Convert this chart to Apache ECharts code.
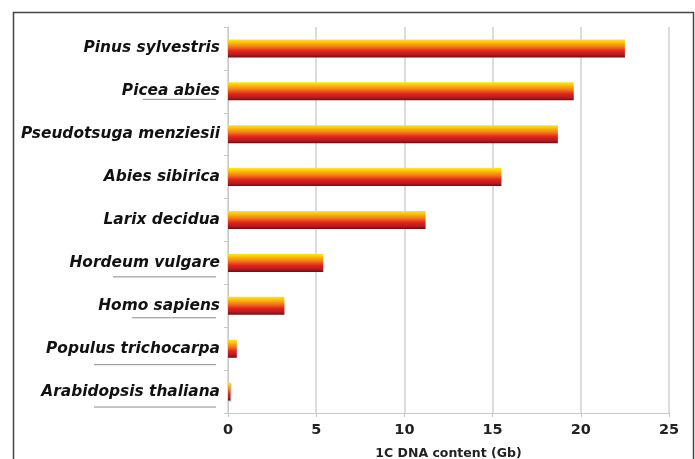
<!DOCTYPE html>
<html>
<head>
<meta charset="utf-8">
<script src="https://cdn.jsdelivr.net/npm/echarts@6/dist/echarts.min.js"></script>
<style>
html,body{margin:0;padding:0;background:#fff;}
#chart{width:695px;height:459px;}
</style>
</head>
<body>
<div id="chart"></div>
<script>
var species = ['Pinus sylvestris','Picea abies','Pseudotsuga menziesii','Abies sibirica','Larix decidua','Hordeum vulgare','Homo sapiens','Populus trichocarpa','Arabidopsis thaliana'];
var dnaContent = [22.5, 19.6, 18.7, 15.5, 11.2, 5.4, 3.2, 0.5, 0.135];
var xTicks = [0, 5, 10, 15, 20, 25];
var xTitle = '1C DNA content (Gb)';

var chart = echarts.init(document.getElementById('chart'));
chart.setOption({
  animation: false,
  grid: {left: 228, right: 26, top: 27, bottom: 46, containLabel: false, outerBoundsMode: 'none'},
  xAxis: {
    type: 'value',
    min: xTicks[0], max: xTicks[xTicks.length - 1], interval: 5,
    name: xTitle, nameLocation: 'middle', nameGap: 34,
    nameTextStyle: {fontFamily: 'DejaVu Sans', fontWeight: 'bold', fontSize: 12.5, color: '#222'},
    axisLine: {show: true, lineStyle: {color: '#c8c8c8', width: 1}},
    axisTick: {show: true, length: 4, lineStyle: {color: '#c8c8c8'}},
    axisLabel: {fontFamily: 'DejaVu Sans', fontWeight: 'bold', fontSize: 14.5, color: '#222', margin: 10},
    splitLine: {show: true, lineStyle: {color: '#d0d0d0', width: 1.5}}
  },
  yAxis: {
    type: 'category', data: species, inverse: true,
    axisLine: {show: true, lineStyle: {color: '#c8c8c8', width: 1}},
    axisTick: {show: true, length: 4, lineStyle: {color: '#c8c8c8'}},
    axisLabel: {fontFamily: 'DejaVu Sans', fontWeight: 'bold', fontStyle: 'italic', fontSize: 15.4, color: '#111', margin: 8}
  },
  series: [{
    type: 'bar',
    data: dnaContent,
    barWidth: 18,
    itemStyle: {
      color: new echarts.graphic.LinearGradient(0, 0, 0, 1, [
        {offset: 0, color: '#ffea00'},
        {offset: 0.15, color: '#ffc20e'},
        {offset: 0.4, color: '#f47920'},
        {offset: 0.65, color: '#e3201f'},
        {offset: 0.85, color: '#b01c22'},
        {offset: 1, color: '#5a1616'}
      ]),
      shadowColor: 'rgba(0,0,0,0.25)', shadowOffsetX: 1, shadowOffsetY: 1, shadowBlur: 1
    }
  }]
});

// decorative frame and the grey rules drawn under some labels in the source figure
var underlined = [
  {cat: 'Picea abies', x0: 143, dy: 8},
  {cat: 'Hordeum vulgare', x0: 113, dy: 14},
  {cat: 'Homo sapiens', x0: 132, dy: 12},
  {cat: 'Populus trichocarpa', x0: 94, dy: 16},
  {cat: 'Arabidopsis thaliana', x0: 94, dy: 15.5}
];
var gfx = [{
  type: 'rect',
  shape: {x: 13.5, y: 12.5, width: 680, height: 470},
  style: {fill: 'none', stroke: '#444', lineWidth: 1.5},
  silent: true
}];
underlined.forEach(function (u) {
  var y = chart.convertToPixel({yAxisIndex: 0}, u.cat) + u.dy;
  gfx.push({
    type: 'line', silent: true,
    shape: {x1: u.x0, y1: y, x2: 216, y2: y},
    style: {stroke: '#8a8a8a', lineWidth: 1}
  });
});
chart.setOption({graphic: gfx});
</script>
</body>
</html>
